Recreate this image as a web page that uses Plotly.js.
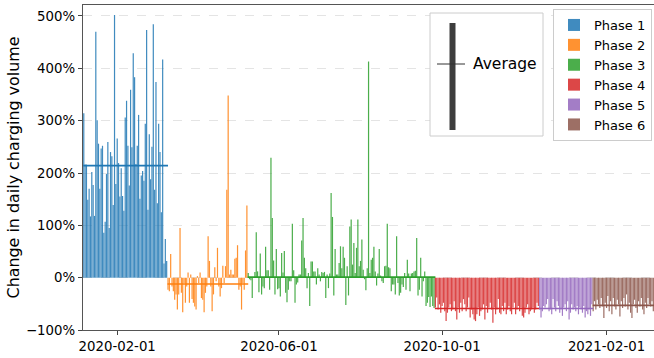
<!DOCTYPE html>
<html>
<head>
<meta charset="utf-8">
<script src="https://cdn.plot.ly/plotly-3.0.1.min.js"></script>
<style>html,body{margin:0;padding:0;background:#fff;}#chart{width:654px;height:358px;}</style>
</head>
<body>
<div id="chart"></div>
<script>
// ---- data (values in %) ----
const firstDay = '2020-01-07';
const phaseNames = ['Phase 1', 'Phase 2', 'Phase 3', 'Phase 4', 'Phase 5', 'Phase 6'];
const phase1 = [314, 216, 216, 149, 170, 117, 202, 177, 118, 470, 301, 256, 170, 247, 252, 86, 107, 198, 259, 95,
  240, 232, 139, 502, 179, 266, 219, 155, 209, 156, 128, 306, 338, 252, 176, 359, 249, 429, 383, 217,
  252, 311, 151, 195, 204, 185, 294, 473, 130, 274, 188, 250, 484, 168, 374, 142, 294, 240, 125, 417, 27, 74, 32];
const phase2 = [-23, -26, 45, -17, -26, -42, -32, -61, -32, 95, -29, -66, -10, -48, -17, 10, -48, 6, -41, -48,
  -55, -61, 3, -10, 10, -39, -42, -66, -29, -17, 79, 32, -17, -64, -32, 20, -7, 57, -17, -36,
  -20, 23, -10, 22, 168, 348, 6, 15, 6, 6, 36, 38, 62, -23, -17, -61, -10, -23, 52, 138];
const phase3 = [9, -3, -5, -39, 0, 11, 87, 12, -28, 46, -32, -17, -20, 59, 14, 14, -23, 229, 114, 33,
  -32, 55, -22, -20, -36, 47, 10, 51, -29, -47, -23, -7, -7, 103, 14, -48, -13, -9, 6, 6,
  71, 114, 38, 18, -20, 9, -54, 31, 31, 12, 12, -13, 18, 6, -7, 11, 9, 11, -39, 6,
  -20, 8, 162, 116, -34, 55, 6, 6, 28, 60, 18, 59,
  38, -52, 22, -34, 98, 111, 25, 66, 9, 57, 111, 22, 32, 73, 15, -3, -24, 18, 413, 9,
  34, 38, 59, 12, -15, 8, 55, 4, -7, -10, 22, 23, 103, 20, 18, -26, -13, -13, -32, 79,
  -10, -34, -29, -13, -18, 9, -23, 34, 8, -26, 8, 9, 12, 13, 76, -34, -23, 38, -36, -7,
  12, -54, -48, -37, -56, -36, -54, -58];
const phase4 = [-57, -38, -61, -51, -67, -54, -48, -64, -83, -67, -57, -51, -64, -61, -45, -64, -80, -57, -67, -48,
  -64, -41, -51, -64, -57, -38, -76, -61, -70, -80, -83, -70, -57, -73, -64, -61, -51, -80, -54, -67,
  -57, -48, -61, -86, -57, -70, -61, -41, -67, -70, -54, -64, -48, -70, -61, -54, -64, -70, -57, -48,
  -70, -61, -54, -64, -57, -73, -76, -67, -57, -51, -70, -64, -61, -57, -67, -61, -48, -54];
const phase5 = [-61, -76, -64, -54, -57, -51, -41, -64, -61, -70, -41, -57, -64, -45, -54, -67, -61, -73, -57, -51,
  -64, -45, -80, -67, -51, -61, -57, -64, -54, -70, -57, -61, -67, -54, -76, -64, -70, -61, -73, -51];
const phase6 = [-64, -45, -61, -42, -51, -58, -39, -55, -77, -48, -58, -35, -64, -45, -70, -39, -55, -61, -42, -51,
  -74, -45, -58, -39, -55, -32, -61, -48, -67, -77, -51, -42, -58, -67, -45, -55, -39, -61, -70, -48,
  -58, -39, -51, -55, -45, -64];
const phaseAverages = [214, -12, 1, -59, -59, -53];
const xTickVals = ['2020-02-01', '2020-06-01', '2020-10-01', '2021-02-01'];
const yTickVals = [-100, 0, 100, 200, 300, 400, 500];
const yTickText = ['\u2212100%', '0%', '100%', '200%', '300%', '400%', '500%'];

// ---- styling ----
const colors = ['#1f77b4', '#ff7f0e', '#2ca02c', '#d62728', '#9467bd', '#8c564b'];
const DAY = 86400000;
const FONT = 'DejaVu Sans, sans-serif';

function dateAt(offset) {
  const d = new Date(Date.parse(firstDay + 'T00:00:00Z') + offset * DAY);
  return d.toISOString().slice(0, 19).replace('T', ' ');
}

const phases = [phase1, phase2, phase3, phase4, phase5, phase6];
const traces = [];
const lineTraces = [];
let offset = 0;
phases.forEach((vals, i) => {
  const xs = vals.map((_, k) => dateAt(offset + k));
  traces.push({
    type: 'bar', x: xs, y: vals, name: phaseNames[i],
    width: 0.9 * DAY,
    marker: { color: colors[i], line: { width: 0 } },
    opacity: 0.85,
    hoverinfo: 'x+y'
  });
  lineTraces.push({
    type: 'scatter', mode: 'lines',
    x: [dateAt(offset - 0.4), dateAt(offset + vals.length)],
    y: [phaseAverages[i], phaseAverages[i]],
    line: { color: colors[i], width: 1.6 },
    showlegend: false, hoverinfo: 'y'
  });
  offset += vals.length;
});

// pixel -> paper helpers for the inset "Average" key
const PL = 83, PW = 571, PT = 5, PH = 325;
const px = v => (v - PL) / PW;
const py = v => (PT + PH - v) / PH;

const layout = {
  width: 654, height: 358,
  margin: { l: 83, r: 0, t: 5, b: 28, pad: 0 },
  paper_bgcolor: '#fff', plot_bgcolor: '#fff',
  font: { family: FONT, color: '#000', size: 13.3 },
  barmode: 'overlay',
  showlegend: true,
  legend: {
    x: px(553), y: py(9), xanchor: 'left', yanchor: 'top',
    bgcolor: '#fff', bordercolor: '#cccccc', borderwidth: 1,
    font: { family: FONT, size: 13, color: '#000' },
    tracegroupgap: 0
  },
  xaxis: {
    type: 'date',
    range: ['2020-01-06 10:00', '2021-03-08 12:00'],
    tickvals: xTickVals, ticktext: xTickVals,
    ticks: 'outside', ticklen: 4, tickcolor: '#444',
    showline: true, linecolor: '#555', linewidth: 1.2, mirror: true,
    showgrid: false, zeroline: false,
    tickfont: { family: FONT, size: 13.3 }
  },
  yaxis: {
    range: [-100, 521],
    tickmode: 'array', tickvals: yTickVals, ticktext: yTickText,
    ticks: 'outside', ticklen: 4, tickcolor: '#444',
    showline: true, linecolor: '#555', linewidth: 1.2,
    showgrid: true, gridcolor: '#dddddd', griddash: 'dash', gridwidth: 0.8,
    zeroline: false,
    tickfont: { family: FONT, size: 13.3 },
    title: { text: 'Change in daily charging volume', font: { family: FONT, size: 15.9 }, standoff: 2 }
  },
  shapes: [
    { type: 'rect', xref: 'paper', yref: 'paper', x0: px(430), x1: px(543), y0: py(136), y1: py(13),
      fillcolor: '#fff', line: { color: '#cccccc', width: 1 }, layer: 'above' },
    { type: 'rect', xref: 'paper', yref: 'paper', x0: px(449.5), x1: px(455.5), y0: py(130), y1: py(23),
      fillcolor: '#3d3d3d', line: { width: 0 }, layer: 'above' },
    { type: 'line', xref: 'paper', yref: 'paper', x0: px(437), x1: px(465), y0: py(64), y1: py(64),
      line: { color: '#333', width: 1 }, layer: 'above' }
  ],
  annotations: [
    { xref: 'paper', yref: 'paper', x: px(471), y: py(64), xanchor: 'left', yanchor: 'middle',
      text: 'Average', showarrow: false, font: { family: FONT, size: 15.5, color: '#000' } }
  ]
};

Plotly.newPlot('chart', traces.concat(lineTraces), layout, { displayModeBar: false, staticPlot: true });
</script>
</body>
</html>
